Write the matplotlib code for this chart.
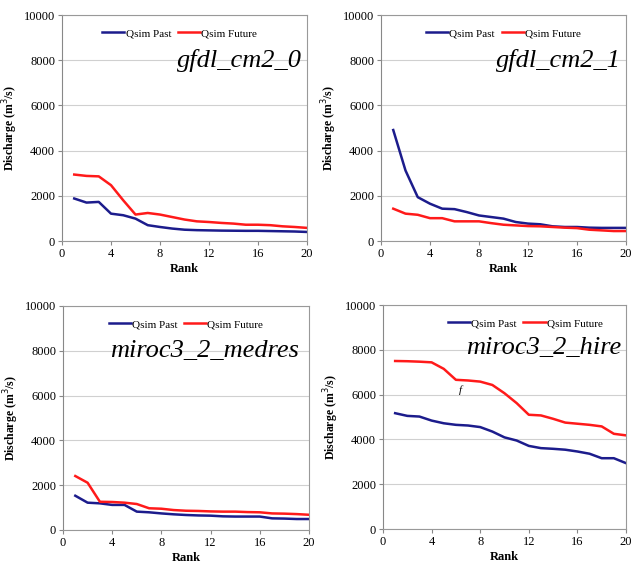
import matplotlib.pyplot as plt

plt.rcParams['font.family'] = ['Liberation Serif', 'DejaVu Serif']

# rank 1..20 on the x axis
rank = list(range(1, 21))

# gfdl_cm2_0
gfdl0_past = [1880, 1700, 1730, 1210, 1140, 990, 700, 620, 550, 500,
              480, 470, 460, 455, 450, 450, 440, 430, 420, 400]
gfdl0_future = [2940, 2880, 2860, 2470, 1800, 1170, 1240, 1170, 1060, 950,
                870, 840, 800, 770, 720, 720, 700, 650, 620, 580]

# gfdl_cm2_1
gfdl1_past = [4910, 3120, 1940, 1650, 1430, 1410, 1280, 1130, 1060, 990,
              840, 770, 740, 650, 620, 620, 590, 580, 580, 580]
gfdl1_future = [1430, 1210, 1160, 1010, 1010, 870, 870, 870, 790, 720,
                690, 660, 650, 620, 590, 570, 500, 470, 440, 440]

# miroc3_2_medres
medres_past = [1530, 1220, 1190, 1120, 1120, 820, 790, 740, 700, 670,
               650, 640, 610, 600, 600, 600, 520, 510, 490, 490]
medres_future = [2410, 2110, 1260, 1250, 1220, 1160, 970, 950, 890, 860,
                 850, 830, 820, 820, 800, 790, 740, 730, 710, 680]

# miroc3_2_hires
hires_past = [5170, 5050, 5020, 4840, 4720, 4650, 4620, 4550, 4350, 4090,
              3950, 3710, 3610, 3580, 3540, 3460, 3360, 3160, 3160, 2940]
hires_future = [7500, 7490, 7470, 7440, 7150, 6660, 6630, 6580, 6430, 6060,
                5620, 5100, 5070, 4920, 4750, 4700, 4650, 4580, 4250, 4180]

panel_names = ['gfdl_cm2_0', 'gfdl_cm2_1', 'miroc3_2_medres', 'miroc3_2_hire']
past_series = [gfdl0_past, gfdl1_past, medres_past, hires_past]
future_series = [gfdl0_future, gfdl1_future, medres_future, hires_future]

x_ticks = [0, 4, 8, 12, 16, 20]
y_ticks = [0, 2000, 4000, 6000, 8000, 10000]

PAST_COLOR = '#1c1c8c'
FUTURE_COLOR = '#ff1a1a'

W, H = 631, 578
# axes boxes in pixels: left, top, right, bottom
boxes = [(62, 15, 307, 241), (381, 15, 626, 241),
         (63, 306, 309, 530), (383, 305, 626, 529)]
legend_anchor = [(0.48, 0.97), (0.5, 0.97), (0.5, 0.97), (0.585, 0.97)]
title_pos = [(0.98, 0.80), (0.98, 0.80), (0.96, 0.80), (0.98, 0.81)]

fig = plt.figure(figsize=(W / 100, H / 100), dpi=100)

for i in range(4):
    l, t, r, b = boxes[i]
    ax = fig.add_axes([l / W, 1 - b / H, (r - l) / W, (b - t) / H])
    ax.plot(rank, past_series[i], color=PAST_COLOR, lw=1.8, label='Qsim Past')
    ax.plot(rank, future_series[i], color=FUTURE_COLOR, lw=1.8, label='Qsim Future')
    ax.set_xlim(0, 20)
    ax.set_ylim(0, 10000)
    ax.set_xticks(x_ticks)
    ax.set_yticks(y_ticks)
    ax.tick_params(labelsize=9, length=3, color='#888888', pad=2)
    ax.grid(axis='y', color='#d0d0d0', lw=0.8)
    ax.set_axisbelow(True)
    for s in ax.spines.values():
        s.set_color('#999999')
        s.set_linewidth(0.8)
    ax.spines['left'].set_color('#888888')
    ax.set_xlabel('Rank', fontsize=9, fontweight='bold', labelpad=2)
    ax.set_ylabel('Discharge (m$^3$/s)', fontsize=8.5, fontweight='bold', labelpad=3)
    ax.legend(loc='upper center', bbox_to_anchor=legend_anchor[i], ncol=2,
              frameon=False, fontsize=8, handlelength=2.0, handletextpad=0.1,
              columnspacing=0.6, borderaxespad=0.2)
    ax.text(title_pos[i][0], title_pos[i][1], panel_names[i], transform=ax.transAxes,
            ha='right', va='center', fontsize=19, style='italic')

# stray glyph fragment in the last panel
fig.axes[3].text(6.4, 6000, 'f', fontsize=8, style='italic', va='bottom', ha='center')

fig.savefig('out.png', dpi=100)
